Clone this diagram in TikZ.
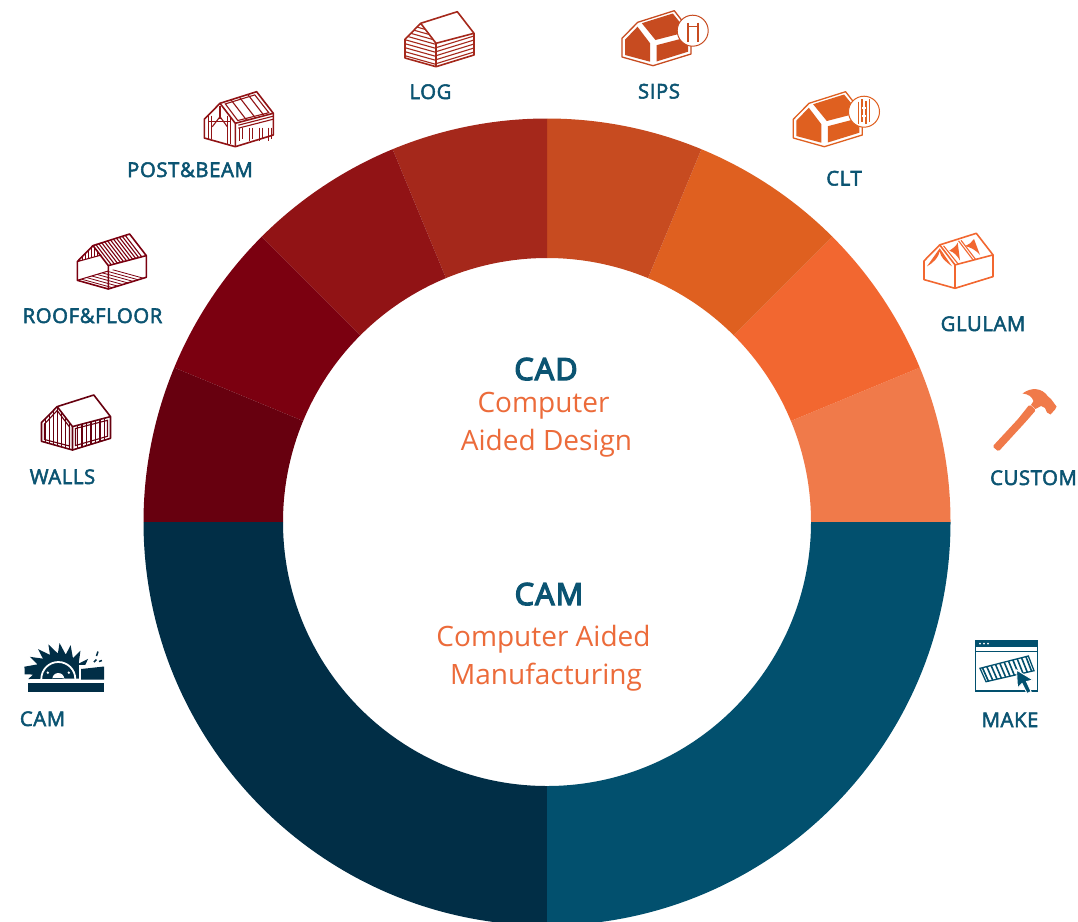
\documentclass[tikz,border=0pt]{standalone}
\usepackage{fontspec}
\setmainfont{Open Sans}
\newfontfamily\labfont[FakeBold=2.6,LetterSpace=3]{Open Sans}
\newfontfamily\ttlfont[FakeBold=4.5,LetterSpace=4]{Open Sans}
\newfontfamily\thinfont{Open Sans}
\definecolor{navy}{HTML}{0B5472}
\definecolor{txtorange}{HTML}{EC6B3A}
\definecolor{dkblue}{HTML}{012E46}
\definecolor{mdblue}{HTML}{02506E}
\definecolor{cwalls}{HTML}{67000F}
\definecolor{croof}{HTML}{7B0010}
\definecolor{cpost}{HTML}{911315}
\definecolor{clog}{HTML}{A5281B}
\definecolor{csips}{HTML}{C74B20}
\definecolor{cclt}{HTML}{DF6020}
\definecolor{cglu}{HTML}{F26730}
\definecolor{ccus}{HTML}{F07A4A}
\tikzset{
  lab/.style={anchor=base,inner sep=0pt,text=navy,font=\labfont\fontsize{20.3}{20}\selectfont},
  ttl/.style={anchor=base,inner sep=0pt,text=navy,font=\ttlfont\fontsize{30.5}{30}\selectfont},
  sub/.style={anchor=base,inner sep=0pt,text=txtorange,font=\thinfont\fontsize{28}{28}\selectfont},
  hline/.style={line width=1.6pt,line join=round},
  thin/.style={line width=1.1pt},
}
% local house: L top, apex, ridge end, right top, right bottom, front bottom, left bottom
\newcommand\houseoutline[1]{%
  \draw[hline,#1] (0,27.6)--(15.7,11.6)--(52.3,0)--(69,21.6)--(69,43.3)--(31,55)--(0,46.3)--cycle;
  \draw[hline,#1] (15.7,11.6)--(31,31.6)--(31,55);
  \draw[hline,#1] (31,31.6)--(69,21.6);}
\newcommand\gableclip{\clip (0,27.6)--(15.7,11.6)--(31,31.6)--(31,55)--(0,46.3)--cycle;}
\newcommand\wallclip{\clip (31,31.6)--(69,21.6)--(69,43.3)--(31,55)--cycle;}
\newcommand\panelhouse[1]{%
  \draw[hline,#1,line width=1.3pt] (0,27.6)--(15.7,11.6)--(52.3,0)--(69,21.6)--(69,43.3)--(31,55)--(0,46.3)--cycle;
  \fill[#1] (3,29)--(15.5,16)--(28,32.5)--(28,51)--(3,44.3)--cycle;
  \fill[#1] (19.8,12.5)--(50.8,2.8)--(65.5,21)--(33.5,29.3)--cycle;
  \fill[#1] (34.5,34.5)--(66,26.3)--(66,41)--(34.5,50.8)--cycle;}
\begin{document}
\begin{tikzpicture}[x=1pt,y=-1pt]
\useasboundingbox (0,0) rectangle (1078,921);
\clip (0,0) rectangle (1078,921);
\fill[white] (0,0) rectangle (1078,921);
% ring
\begin{scope}[shift={(547,522)},x=1pt,y=1pt]
\newcommand\sector[3]{\fill[#3] (#1:264) arc[start angle=#1,end angle=#2,radius=264] -- (#2:403.5) arc[start angle=#2,end angle=#1,radius=403.5] -- cycle;}
\sector{0}{22.5}{ccus}
\sector{22.5}{45}{cglu}
\sector{45}{67.5}{cclt}
\sector{67.5}{90}{csips}
\sector{90}{112.5}{clog}
\sector{112.5}{135}{cpost}
\sector{135}{157.5}{croof}
\sector{157.5}{180}{cwalls}
\sector{180}{270}{dkblue}
\sector{270}{360}{mdblue}
\end{scope}
% centre text
\node[ttl] (cadt) at (546,380) {CAD};
\node[sub] (cad1) at (543.5,412) {Computer};
\node[sub] (cad2) at (546.5,450) {Aided Design};
\node[ttl] (camt) at (549,605) {CAM};
\node[sub] (cam1) at (543.5,646) {Computer Aided};
\node[sub] (cam2) at (546,684) {Manufacturing};
% labels
\node[lab] (llog) at (430.5,99) {LOG};
\node[lab] (lsips) at (659,98.5) {SIPS};
\node[lab] (lclt) at (844,185.5) {CLT};
\node[lab] (lglu) at (983,331) {GLULAM};
\node[lab] (lcus) at (1033.5,485) {CUSTOM};
\node[lab] (lpost) at (190,177) {POST\&BEAM};
\node[lab] (lroof) at (92.5,323) {ROOF\&FLOOR};
\node[lab] (lwall) at (62.5,484) {WALLS};
\node[lab] (lcam) at (42.5,726) {CAM};
\node[lab] (lmake) at (1010,727) {MAKE};
% LOG icon
\begin{scope}[shift={(405,11.7)}]
  \begin{scope}\gableclip
    \foreach \y in {8,12,...,48} \draw[clog,thin] (0,\y)--(31,\y+8.7);
  \end{scope}
  \begin{scope}\wallclip
    \foreach \y in {36,40,...,64} \draw[clog,thin] (31,\y)--(69,\y-11.7);
  \end{scope}
  \houseoutline{clog}
\end{scope}
% WALLS icon
\begin{scope}[shift={(41.5,395)}]
  \begin{scope}\gableclip
    \foreach \x in {4,8,...,28} \draw[cwalls,thin] (\x,10)--(\x,55);
  \end{scope}
  \begin{scope}\wallclip
    \foreach \x in {36,40.5,...,66} \draw[cwalls,thin] (\x,20)--(\x,55);
  \end{scope}
  \houseoutline{cwalls}
  \draw[cwalls,thin] (3,29)--(15.7,15.5)--(28,32)--(28,51)--(3,44.5)--cycle;
  \draw[cwalls,thin] (34,33.5)--(66,25.3)--(66,41.3)--(34,50.5)--cycle;
\end{scope}
% ROOF&FLOOR icon
\begin{scope}[shift={(77.3,234)}]
  \foreach \t in {0.08,0.16,...,0.93} \draw[croof,thin] (15.7+36.6*\t,11.6-11.6*\t)--(31+38*\t,31.6-10*\t);
  \begin{scope}
    \clip (0,46.3)--(38,35)--(69,43.3)--(31,55)--cycle;
    \foreach \y in {20,23,...,60} \draw[croof,line width=0.8pt] (0,\y)--(69,\y+19);
  \end{scope}
  \draw[croof,line width=1pt] (0,46.3)--(31,37);
  \draw[croof,thin] (0,27.6)--(24,21);
  \begin{scope}
    \clip (0,27.6)--(15.7,11.6)--(24,21)--cycle;
    \foreach \x in {2,5,...,26} \draw[croof,line width=0.7pt] (\x,10)--(\x,30);
  \end{scope}
  \houseoutline{croof}
\end{scope}
% POST&BEAM icon
\begin{scope}[shift={(204.3,91.7)}]
  \draw[cpost,thin] (21,12.2)--(50.5,3.2)--(64.5,21)--(33.5,28.8)--cycle;
  \foreach \t in {0.3,0.53,0.76} \draw[cpost,thin] (15.7+36.6*\t,11.6-11.6*\t)--(31+38*\t,31.6-10*\t);
  \draw[cpost,thin] (34,33.5)--(69,24.5);
  \draw[cpost,thin] (34,36.5)--(69,27.5);
  \foreach \x in {35,45,55,64} {
    \draw[cpost,thin] (\x,36)--(\x,49);
    \draw[cpost,line width=0.6pt] (\x+2.5,36)--(\x+2.5,47);
  }
  \begin{scope}\gableclip
  \draw[cpost,thin] (4.5,24)--(4.5,47);
  \draw[cpost,line width=0.6pt] (7,24)--(7,47);
  \draw[cpost,thin] (23.5,24)--(23.5,52);
  \draw[cpost,line width=0.6pt] (26,26)--(26,52);
  \draw[cpost,thin] (15.7,14)--(15.7,27);
  \draw[cpost,thin] (4,30)--(27,30);
  \draw[cpost,thin] (8,35)--(15.7,25)--(23,35);
  \end{scope}
  \houseoutline{cpost}
\end{scope}
% SIPS icon
\begin{scope}[shift={(622,10.7)}]
  \panelhouse{csips}
\end{scope}
\filldraw[fill=white,draw=csips,line width=1pt] (692.7,30.7) circle[radius=15.5];
\draw[csips,line width=2pt] (688,22.5)--(688,42) (697.5,22.5)--(697.5,42);
\draw[csips,line width=1.6pt] (687,26.5)--(698.5,26.5);
% CLT icon
\begin{scope}[shift={(793.3,91.7)}]
  \panelhouse{cclt}
\end{scope}
\filldraw[fill=white,draw=cclt,line width=1pt] (864,111.7) circle[radius=15.5];
\draw[cclt,line width=1.4pt] (858.5,101.5)--(858.5,124) (862,99)--(862,122) (866,101)--(866,124) (869.5,99)--(869.5,122);
\draw[white,line width=1.2pt] (862,108)--(866,108) (862,116)--(866,116);
% GLULAM icon
\begin{scope}[shift={(924,233.3)}]
  \fill[cglu] (3,33) -- (15.7,15) -- (28,33) .. controls (21,28) and (16.5,24) .. (15.7,18) .. controls (14.5,24) and (10,29) .. (3,33) -- cycle;
  \fill[cglu] (25.3,17.3) .. controls (29,15) and (32,13) .. (33.7,9.3) -- (36,27.3) .. controls (33,22) and (30,19) .. (25.3,17.3) -- cycle;
  \fill[cglu] (41,12.7) .. controls (45,11) and (48,9) .. (50,5.7) -- (56,21.7) .. controls (52,17) and (47,14) .. (41,12.7) -- cycle;
  \draw[cglu,thin] (34.5,7.5)--(49,26.5);
  \draw[cglu,thin] (37,7)--(51.5,26);
  \draw[cglu,thin] (19.5,12.5)--(34,30.5);
  \houseoutline{cglu}
\end{scope}
% CUSTOM hammer
\fill[ccus,rounded corners=1.5pt] (992.5,446.5)--(1018,419)--(1029.5,404.5)--(1036,410)--(1026,421.5)--(998.5,451.5)--cycle;
\fill[ccus] (1022.5,393.5) .. controls (1031,387) and (1042,387.5) .. (1048,396.5)
   -- (1051,399) -- (1056.5,406.5) -- (1055,409.5) -- (1050.5,414.5) -- (1047,412.5) -- (1045,408)
   -- (1041,406) -- (1035.5,409) -- (1031,405) -- (1033.5,401) .. controls (1032,396.5) and (1028,394) .. (1022.5,393.5) -- cycle;
% CAM saw
\begin{scope}[shift={(58.3,679)},x=1pt,y=1pt]
  \fill[dkblue] (35,0.5)
    \foreach \a in {22,40,...,150} { -- (\a-3:25.5) -- (\a+12:36) }
    -- (172:34) -- (170:25.5) -- (180:30) -- (-30,0) -- cycle;
  \draw[white,line width=1.8pt] (17,0) arc[start angle=0,end angle=180,radius=17];
  \fill[white] (-6,1) -- (-6,0) arc[start angle=180,end angle=0,radius=6] -- (6,1) -- cycle;
  \fill[white] (-10.5,6.3) circle[radius=1.3] (10.5,6.3) circle[radius=1.3];
\end{scope}
\fill[white] (79,665) rectangle (95,681);
\fill[dkblue] (81,669)--(104,666.5)--(104,679.5)--(81,679.5)--cycle;
\fill[dkblue] (28.3,682.7) rectangle (104,691.7);
\draw[dkblue,line width=1.5pt] (96.5,656)--(98,651.5) (94,662)--(96.5,659.5) (99,661.5)--(102,660.5);
% MAKE icon
\draw[mdblue,line width=1.3pt] (975.3,641)rectangle(1037.5,691);
\fill[mdblue] (975,640.7)rectangle(1037.5,646.5);
\draw[mdblue,line width=1.2pt] (975,651.7)--(1037.5,651.7);
\fill[white] (980,643.7) circle[radius=1] (984,643.7) circle[radius=1] (988,643.7) circle[radius=1];
\begin{scope}
  \clip (980,668.3)--(1028.3,656)--(1034,670.7)--(986,681.7)--cycle;
  \foreach \t in {0.05,0.14,...,1} \draw[mdblue,line width=1.6pt] (980+48.3*\t,668.3-12.3*\t)--(986+48*\t,681.7-11*\t);
\end{scope}
\draw[mdblue,line width=1.3pt] (980,668.3)--(1028.3,656)--(1034,670.7)--(986,681.7)--cycle;
\filldraw[fill=mdblue,draw=white,line width=0.9pt] (1016.5,670)--(1017.5,688)--(1022,683.5)--(1027,693.5)--(1031,691.5)--(1026.5,681.5)--(1033,680)--cycle;
\end{tikzpicture}
\end{document}
